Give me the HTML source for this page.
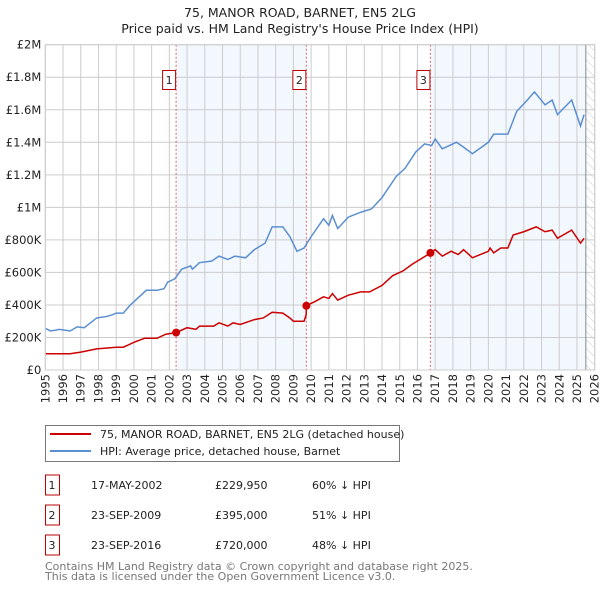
<!DOCTYPE html>
<html><head><meta charset="utf-8"><style>
body{margin:0;background:#fff;font-family:"Liberation Sans","DejaVu Sans",sans-serif;}
svg text{font-family:"DejaVu Sans","Liberation Sans",sans-serif;}
</style></head><body>
<svg id="c" width="600" height="590" xmlns="http://www.w3.org/2000/svg">
<text x="300" y="17" text-anchor="middle" font-size="12.5" fill="#222">75, MANOR ROAD, BARNET, EN5 2LG</text>
<text x="300" y="33" text-anchor="middle" font-size="12.5" fill="#222">Price paid vs. HM Land Registry's House Price Index (HPI)</text>
<g id="plot"></g>
<g>
<rect x="45.5" y="425.5" width="354" height="36" fill="#fff" stroke="#777"/>
<line x1="50" y1="434" x2="91" y2="434" stroke="#cc0000" stroke-width="2"/>
<text x="100" y="438" font-size="11" fill="#222">75, MANOR ROAD, BARNET, EN5 2LG (detached house)</text>
<line x1="50" y1="451" x2="91" y2="451" stroke="#5b8fd1" stroke-width="2"/>
<text x="100" y="455" font-size="11" fill="#222">HPI: Average price, detached house, Barnet</text>
</g>
<g id="table" font-size="11" fill="#222"></g>
<text x="45" y="570" font-size="11" fill="#777">Contains HM Land Registry data © Crown copyright and database right 2025.</text>
<text x="45" y="580" font-size="11" fill="#777">This data is licensed under the Open Government Licence v3.0.</text>
</svg>
<script>
const hpiYears=[1995.0,1995.3,1995.8,1996.4,1996.8,1997.2,1997.9,1998.5,1998.8,1999.0,1999.4,1999.8,2000.1,2000.7,2001.3,2001.7,2001.9,2002.3,2002.7,2003.2,2003.3,2003.7,2004.4,2004.8,2005.3,2005.7,2006.3,2006.8,2007.4,2007.8,2008.4,2008.8,2009.2,2009.6,2010.0,2010.7,2011.0,2011.2,2011.5,2012.1,2012.8,2013.4,2014.0,2014.8,2015.3,2015.9,2016.4,2016.8,2017.0,2017.4,2018.2,2018.6,2019.1,2020.0,2020.3,2021.1,2021.6,2022.2,2022.6,2023.2,2023.6,2023.9,2024.7,2025.2,2025.4];
const hpiValues=[0.256,0.24,0.25,0.24,0.265,0.26,0.32,0.33,0.34,0.35,0.35,0.40,0.43,0.49,0.49,0.50,0.54,0.56,0.62,0.64,0.62,0.66,0.67,0.70,0.68,0.70,0.69,0.74,0.78,0.88,0.88,0.82,0.73,0.75,0.82,0.93,0.89,0.95,0.87,0.94,0.97,0.99,1.06,1.19,1.24,1.34,1.39,1.38,1.42,1.36,1.40,1.37,1.33,1.40,1.45,1.45,1.59,1.66,1.71,1.63,1.66,1.57,1.66,1.50,1.57];
const ppYears=[1995.0,1996.4,1997.0,1997.9,1999.0,1999.4,2000.0,2000.6,2001.3,2001.8,2002.38,2003.0,2003.5,2003.7,2004.5,2004.8,2005.3,2005.6,2006.0,2006.8,2007.3,2007.8,2008.4,2008.8,2009.0,2009.6,2009.72,2009.73,2010.2,2010.7,2011.0,2011.2,2011.5,2012.1,2012.8,2013.3,2014.0,2014.6,2015.2,2015.7,2016.6,2016.73,2017.0,2017.4,2017.9,2018.3,2018.6,2019.1,2020.0,2020.1,2020.3,2020.7,2021.1,2021.4,2022.0,2022.7,2023.2,2023.6,2023.9,2024.7,2025.2,2025.4];
const ppValues=[0.10,0.10,0.11,0.13,0.14,0.14,0.17,0.195,0.195,0.22,0.23,0.26,0.25,0.27,0.27,0.29,0.27,0.29,0.28,0.31,0.32,0.355,0.35,0.32,0.30,0.30,0.34,0.395,0.42,0.45,0.44,0.47,0.43,0.46,0.48,0.48,0.52,0.58,0.61,0.65,0.71,0.72,0.74,0.70,0.73,0.71,0.74,0.69,0.73,0.75,0.72,0.75,0.75,0.83,0.85,0.88,0.85,0.86,0.81,0.86,0.78,0.81];
const saleYears=[2002.38,2009.73,2016.73];
const saleValues=[0.22995,0.395,0.72];
const saleLabels=["1","2","3"];
const saleDates=["17-MAY-2002","23-SEP-2009","23-SEP-2016"];
const salePrices=["£229,950","£395,000","£720,000"];
const salePct=["60% ↓ HPI","51% ↓ HPI","48% ↓ HPI"];
const yTicks=[0,0.2,0.4,0.6,0.8,1,1.2,1.4,1.6,1.8,2];
const yTickLabels=["£0","£200K","£400K","£600K","£800K","£1M","£1.2M","£1.4M","£1.6M","£1.8M","£2M"];
const xTicks=[1995,1996,1997,1998,1999,2000,2001,2002,2003,2004,2005,2006,2007,2008,2009,2010,2011,2012,2013,2014,2015,2016,2017,2018,2019,2020,2021,2022,2023,2024,2025,2026];
const dataEnd=2025.5;

const L=45.3,R=594.7,T=44.7,B=370;
const X=y=>L+(y-1995)/31*(R-L);
const Y=v=>B-v/2*(B-T);
const NS="http://www.w3.org/2000/svg";
const plot=document.getElementById('plot');
function mk(tag,attrs,parent){const e=document.createElementNS(NS,tag);for(const k in attrs)e.setAttribute(k,attrs[k]);(parent||plot).appendChild(e);return e;}

// shading
let s1=mk('rect',{x:X(saleYears[0]),y:T,width:X(saleYears[1])-X(saleYears[0]),height:B-T,fill:'#eef3fd',opacity:0.7});


let s2=mk('rect',{x:X(saleYears[2]),y:T,width:X(dataEnd)-X(saleYears[2]),height:B-T,fill:'#eef3fd',opacity:0.7});


// hatch
const defs=mk('defs',{});
const pat=mk('pattern',{id:'h',width:6,height:6,patternUnits:'userSpaceOnUse',patternTransform:'rotate(-45)'},defs);
mk('line',{x1:0,y1:0,x2:0,y2:6,stroke:'#ccc','stroke-width':1},pat);
let hz=mk('rect',{x:X(dataEnd),y:T,width:R-X(dataEnd),height:B-T,fill:'url(#h)'});


// grid
yTicks.forEach((v,i)=>{
 let g=mk('line',{x1:L,x2:R,y1:Y(v),y2:Y(v),stroke:'#ccc','stroke-width':1});
 
 
 let t=mk('text',{x:L-4,y:Y(v)+4,'text-anchor':'end','font-size':11.5,fill:'#222'});
 t.textContent=yTickLabels[i];
 
 
});
xTicks.forEach(yr=>{
 let g=mk('line',{x1:X(yr),x2:X(yr),y1:T,y2:B,stroke:'#ccc','stroke-width':1});
 
 
 let t=mk('text',{x:0,y:0,'text-anchor':'end','font-size':11.5,fill:'#222',transform:`translate(${X(yr)+4},${B+4}) rotate(-90)`});
 t.textContent=yr;
 
 
});
let dl=mk('line',{x1:X(dataEnd),x2:X(dataEnd),y1:T,y2:B,stroke:'#888','stroke-width':1});


// sale markers lines
saleYears.forEach((yr,i)=>{
 let l=mk('line',{x1:X(yr),x2:X(yr),y1:T,y2:B,stroke:'#e06666','stroke-width':1,'stroke-dasharray':'2,2'});
 
 
 let r=mk('rect',{x:X(yr)-13.5,y:70.5,width:13,height:19,fill:'#fff',stroke:'#b00',"stroke-width":1});
 
 
 let t=mk('text',{x:X(yr)-7,y:84,'text-anchor':'middle','font-size':11,fill:'#222'});
 t.textContent=saleLabels[i];
 
 
});
// series
let hp=mk('polyline',{points:hpiYears.map((y,i)=>X(y)+','+Y(hpiValues[i])).join(' '),fill:'none',stroke:'#5b8fd1','stroke-width':1.5});


let pp=mk('polyline',{points:ppYears.map((y,i)=>X(y)+','+Y(ppValues[i])).join(' '),fill:'none',stroke:'#cc0000','stroke-width':1.5});


saleYears.forEach((yr,i)=>{
 let c=mk('circle',{cx:X(yr),cy:Y(saleValues[i]),r:4,fill:'#cc0000'});
 
 
});
let fr=mk('rect',{x:L,y:T,width:R-L,height:B-T,fill:'none',stroke:'#ccc'});


// table
const tb=document.getElementById('table');
saleLabels.forEach((lab,i)=>{
 const cy=485+i*30;
 let r=mk('rect',{x:45.5,y:cy-10,width:14,height:20,fill:'#fff',stroke:'#b00'},tb);
 
 
 const cols=[[52,lab,'middle'],[91,saleDates[i],'start'],[215,salePrices[i],'start'],[312,salePct[i],'start']];
 cols.forEach(c=>{
  let t=mk('text',{x:c[0],y:cy+4,'text-anchor':c[2]},tb);
  t.textContent=c[1];
  
  
 });
});
</script>
</body></html>
